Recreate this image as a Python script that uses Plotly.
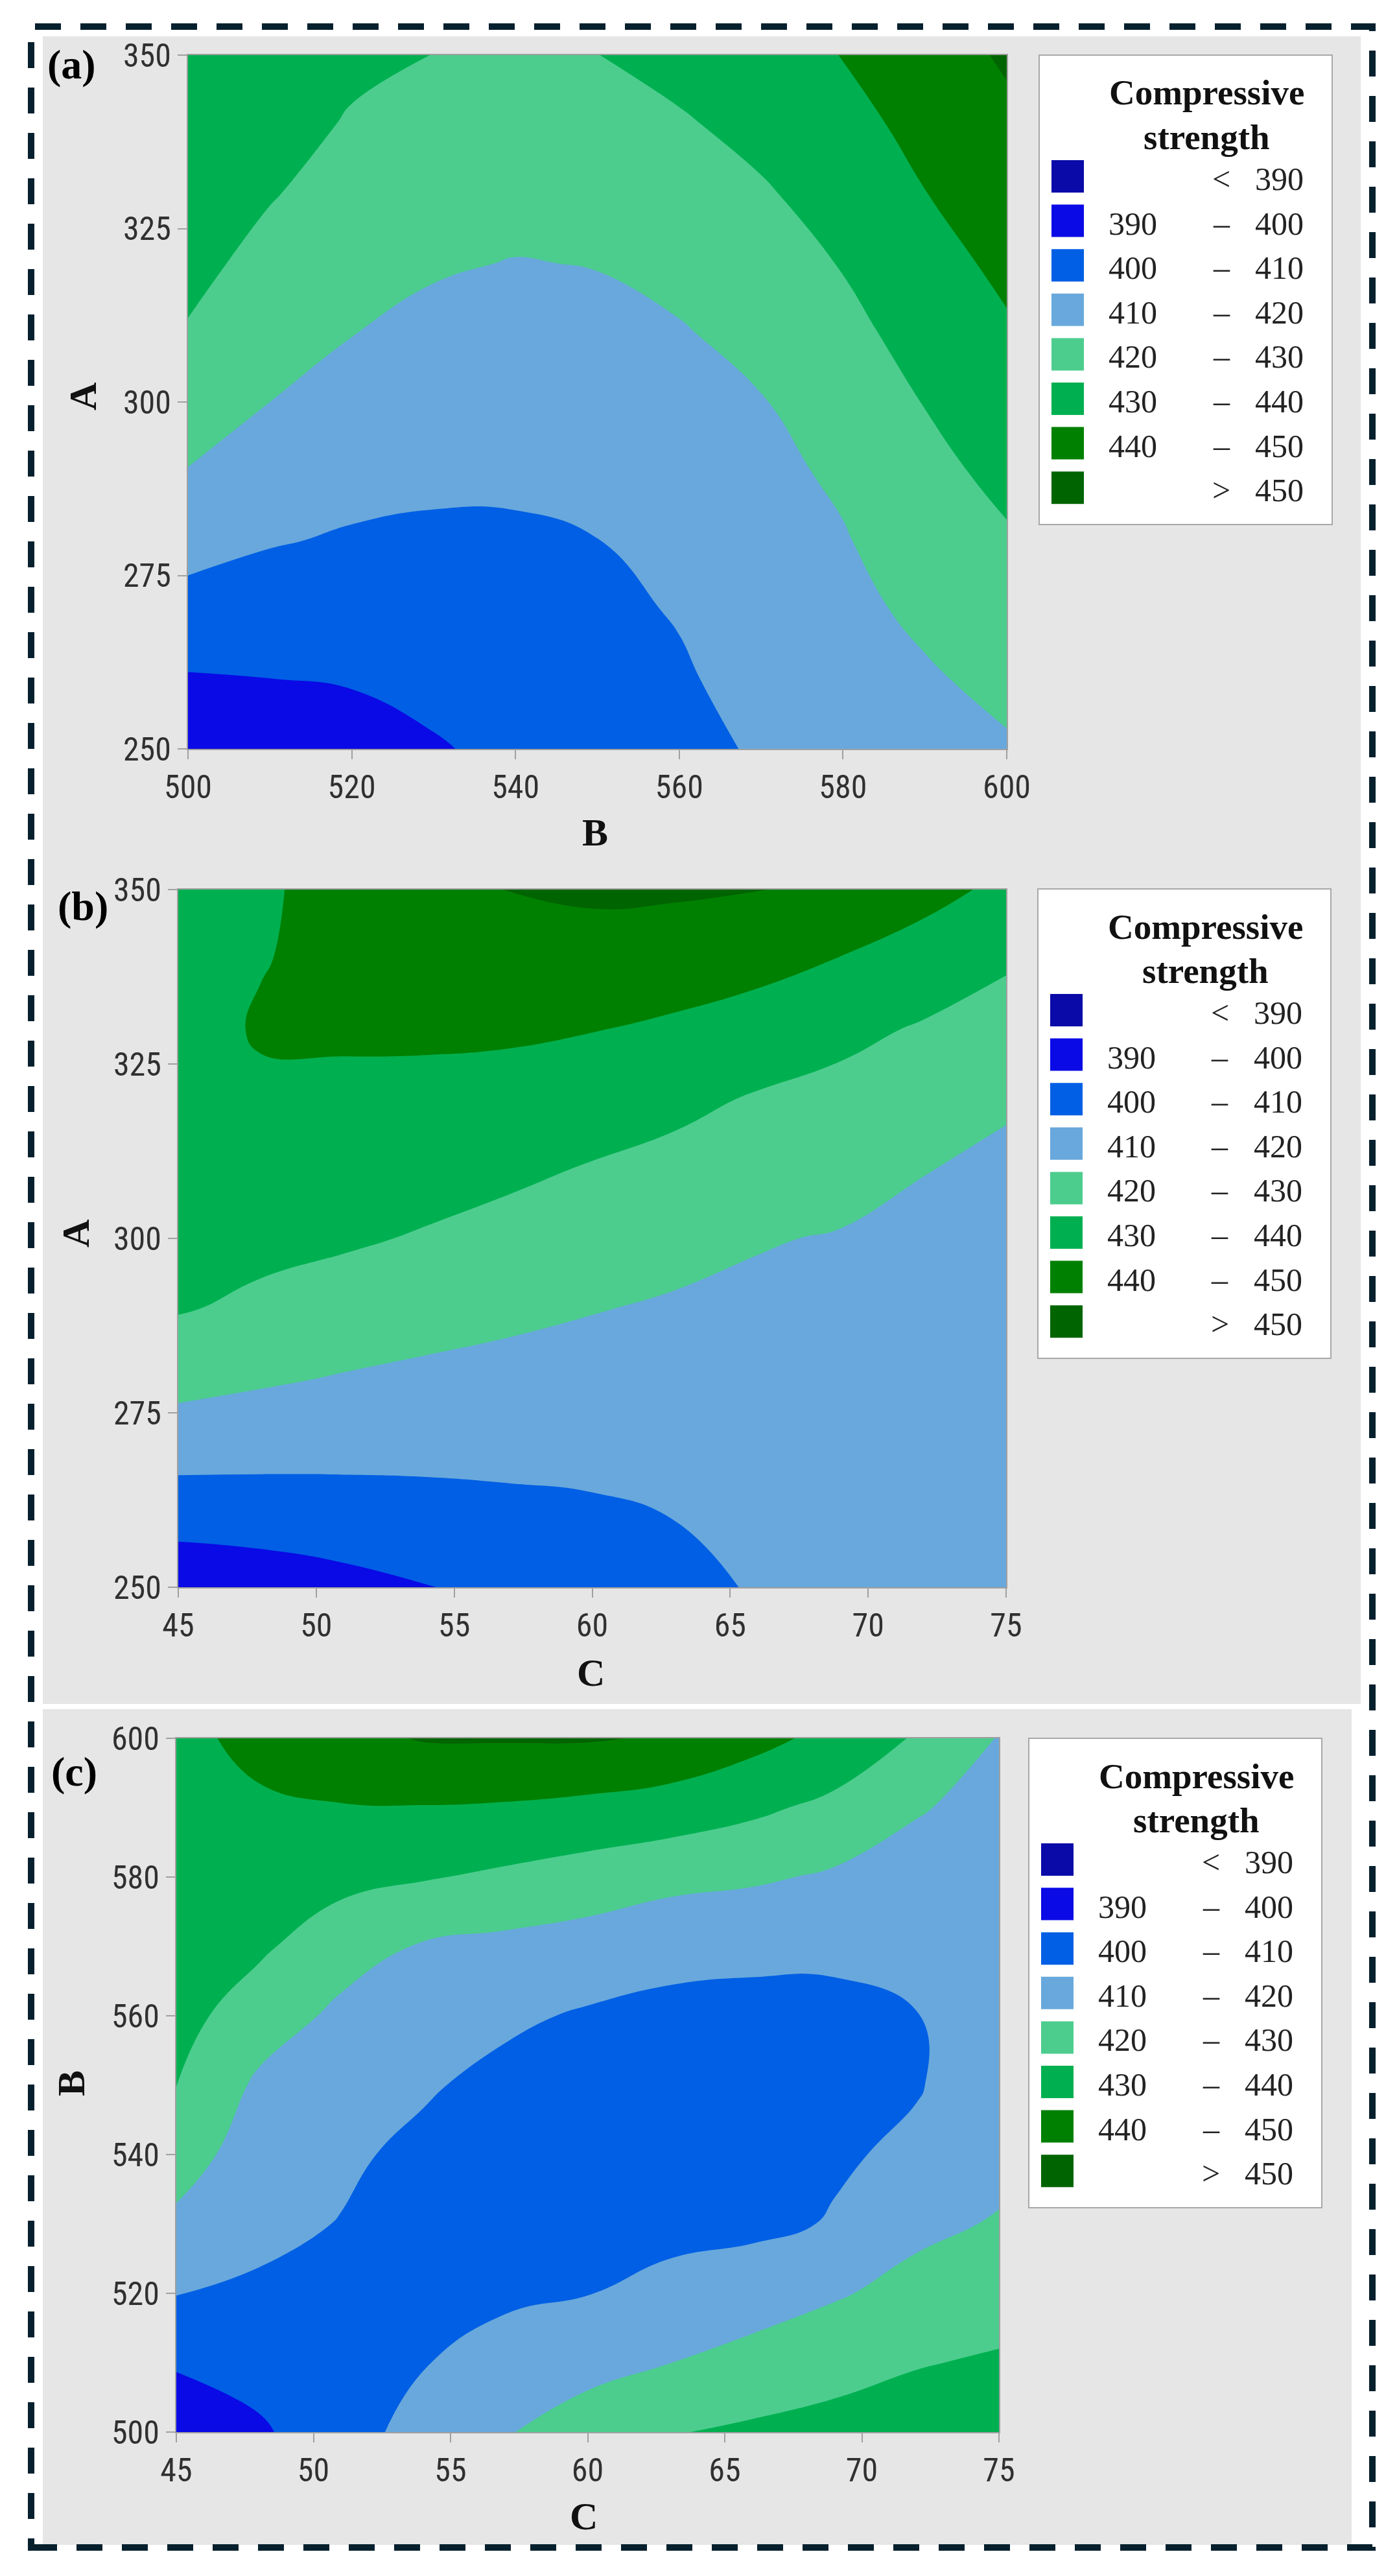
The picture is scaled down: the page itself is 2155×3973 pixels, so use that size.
import plotly.graph_objects as go

W, H = 2155, 3973

# ---------------- data ----------------
A_LEVELS = [250, 260, 270, 280, 290, 300, 310, 320, 330, 340, 350]
B_LEVELS = [500, 510, 520, 530, 540, 550, 560, 570, 580, 590, 600]
C_LEVELS = [45, 48, 51, 54, 57, 60, 63, 66, 69, 72, 75]

# (a) rows = A, columns = B
Z_A_B = [
    [393.5, 394.0, 395.1, 399.2, 402.2, 405.1, 407.9, 410.8, 413.5, 416.2, 419.0],
    [399.2, 399.9, 400.8, 402.5, 404.4, 406.7, 409.1, 412.6, 415.8, 418.9, 422.4],
    [406.6, 405.3, 405.0, 405.6, 406.6, 408.3, 410.5, 414.3, 417.6, 421.8, 425.7],
    [413.4, 410.6, 409.1, 408.6, 408.9, 409.9, 412.7, 416.1, 419.4, 424.6, 429.0],
    [419.7, 415.3, 412.9, 411.7, 411.4, 412.4, 414.9, 417.8, 421.4, 427.5, 432.3],
    [424.5, 420.0, 416.6, 414.8, 414.2, 415.0, 417.2, 419.6, 424.4, 430.3, 435.6],
    [429.3, 423.6, 420.2, 417.8, 417.0, 417.7, 419.4, 422.5, 427.4, 433.5, 438.9],
    [432.6, 427.1, 423.2, 420.9, 419.7, 420.3, 422.4, 425.7, 430.5, 436.6, 442.0],
    [435.0, 430.6, 426.2, 424.0, 423.1, 423.6, 425.7, 429.0, 433.7, 439.8, 445.0],
    [437.2, 433.8, 429.1, 427.1, 426.5, 426.9, 429.0, 432.7, 436.9, 442.8, 448.1],
    [439.0, 437.0, 432.1, 429.9, 429.6, 429.9, 433.0, 436.6, 440.2, 445.8, 451.1],
]

# (b) rows = A, columns = C
Z_A_C = [
    [393.6, 394.8, 397.1, 399.7, 402.4, 405.2, 408.0, 410.6, 411.5, 412.3, 413.0],
    [403.4, 404.3, 405.4, 406.4, 407.6, 408.6, 410.1, 412.6, 413.1, 413.6, 414.0],
    [414.3, 413.5, 412.9, 412.6, 412.5, 412.5, 413.1, 414.5, 414.7, 414.9, 415.0],
    [423.2, 421.2, 419.5, 418.2, 417.2, 416.4, 416.0, 416.5, 416.3, 416.2, 416.1],
    [430.7, 428.2, 425.7, 423.7, 422.0, 420.4, 419.0, 418.4, 417.9, 417.5, 417.1],
    [433.3, 432.4, 431.2, 429.2, 426.9, 424.8, 422.9, 420.5, 419.5, 418.8, 418.2],
    [435.2, 435.6, 434.9, 433.6, 431.8, 429.4, 427.3, 425.2, 423.0, 420.2, 418.5],
    [436.6, 438.9, 438.6, 437.8, 436.6, 434.8, 432.3, 429.2, 427.2, 424.8, 420.9],
    [437.4, 440.6, 440.9, 441.3, 441.3, 440.3, 438.5, 435.9, 432.4, 429.1, 426.0],
    [437.0, 439.7, 441.8, 443.8, 445.8, 446.0, 444.8, 442.9, 439.7, 435.8, 431.2],
    [436.5, 439.0, 442.5, 446.6, 450.3, 451.5, 451.2, 450.4, 447.0, 443.0, 438.0],
]

# (c) rows = B, columns = C
Z_B_C = [
    [393.0, 398.5, 406.4, 413.1, 419.4, 424.2, 429.5, 431.5, 432.8, 434.4, 436.0],
    [401.1, 404.0, 407.5, 409.6, 413.5, 417.2, 419.9, 423.5, 427.0, 429.5, 431.0],
    [410.3, 408.7, 408.6, 407.5, 408.5, 409.8, 412.0, 415.1, 419.0, 423.2, 426.0],
    [418.1, 412.2, 409.7, 407.0, 406.0, 405.5, 408.0, 408.0, 410.6, 417.7, 420.8],
    [424.4, 415.3, 411.5, 408.0, 405.5, 404.0, 405.0, 406.5, 409.0, 411.5, 417.0],
    [430.1, 418.4, 415.2, 411.0, 407.5, 405.5, 405.5, 406.3, 407.5, 409.5, 414.5],
    [433.5, 424.8, 418.1, 415.1, 411.6, 409.0, 408.5, 408.0, 408.5, 409.8, 413.5],
    [435.5, 431.7, 423.9, 419.2, 417.5, 415.8, 411.9, 411.6, 411.2, 413.6, 414.0],
    [436.8, 435.3, 433.0, 430.7, 428.3, 425.6, 423.3, 421.4, 418.7, 416.9, 415.5],
    [437.6, 438.9, 439.5, 439.6, 439.0, 437.5, 435.2, 431.9, 427.6, 420.6, 417.5],
    [438.0, 442.0, 446.9, 450.6, 450.8, 450.8, 449.0, 443.1, 437.1, 429.0, 419.5],
]

BAND_COLORS = ["#0a0aa8", "#0a0ae6", "#005fe4", "#68a8dc",
               "#4ccd8e", "#00b050", "#008000", "#006400"]
BAND_LOW = ["", "390", "400", "410", "420", "430", "440", ""]
BAND_SIGN = ["<", "–", "–", "–", "–", "–", "–", ">"]
BAND_HIGH = ["390", "400", "410", "420", "430", "440", "450", "450"]
LEGEND_TITLE = ["Compressive", "strength"]

A_TICKS = [250, 275, 300, 325, 350]
B_TICKS = [500, 520, 540, 560, 580, 600]
C_TICKS = [45, 50, 55, 60, 65, 70, 75]

LEVEL_START, LEVEL_END, LEVEL_STEP = 390, 450, 10

# ---------------- helpers ----------------
def px(x):
    return x / W


def py(y):
    return 1 - y / H


SERIF = "Liberation Serif, Times New Roman, serif"
TICKFONT = "Liberation Sans Narrow, Arial Narrow, Roboto Condensed, Liberation Sans, sans-serif"

# one colour stop per filled band (plotly samples each band at an evenly spaced point)
nb = len(BAND_COLORS)
cscale = [[i / (nb - 1), c] for i, c in enumerate(BAND_COLORS)]

panels = [
    dict(x=B_LEVELS, y=A_LEVELS, z=Z_A_B, xt=B_TICKS, yt=A_TICKS,
         xr=[500, 600], yr=[250, 350], xtitle="B", ytitle="A", label="(a)",
         box=(290, 85, 1553, 1155), leg=(1603, 85),
         xtpos=(918, 1284), ytpos=(128, 612), lpos=(110, 100)),
    dict(x=C_LEVELS, y=A_LEVELS, z=Z_A_C, xt=C_TICKS, yt=A_TICKS,
         xr=[45, 75], yr=[250, 350], xtitle="C", ytitle="A", label="(b)",
         box=(275, 1372, 1552, 2448), leg=(1601, 1371),
         xtpos=(911, 2580), ytpos=(117, 1903), lpos=(128, 1397)),
    dict(x=C_LEVELS, y=B_LEVELS, z=Z_B_C, xt=C_TICKS, yt=B_TICKS,
         xr=[45, 75], yr=[500, 600], xtitle="C", ytitle="B", label="(c)",
         box=(272, 2681, 1541, 3751), leg=(1587, 2681),
         xtpos=(900, 3881), ytpos=(110, 3213), lpos=(114, 2732)),
]

fig = go.Figure()
shapes = []
annotations = []

# background panels
shapes.append(dict(type="rect", xref="paper", yref="paper", layer="below",
                   x0=px(66), x1=px(2099), y0=py(2628), y1=py(56),
                   fillcolor="#e6e6e6", line=dict(width=0)))
shapes.append(dict(type="rect", xref="paper", yref="paper", layer="below",
                   x0=px(66), x1=px(2085), y0=py(3925), y1=py(2636),
                   fillcolor="#e6e6e6", line=dict(width=0)))

layout_axes = {}
for k, p in enumerate(panels):
    n = "" if k == 0 else str(k + 1)
    fig.add_trace(go.Contour(
        x=p["x"], y=p["y"], z=p["z"],
        xaxis="x" + n, yaxis="y" + n,
        autocontour=False,
        contours=dict(start=LEVEL_START, end=LEVEL_END, size=LEVEL_STEP,
                      coloring="fill", showlines=False),
        line=dict(width=0, smoothing=1.3),
        colorscale=cscale, showscale=False, hoverinfo="skip",
    ))
    x0, y0, x1, y1 = p["box"]
    axcommon = dict(showgrid=False, zeroline=False, showline=True, mirror=True,
                    linecolor="#a0a0a0", linewidth=2, ticks="outside",
                    ticklen=14, tickwidth=2, tickcolor="#a0a0a0", automargin=False,
                    tickfont=dict(family=TICKFONT, size=50, color="#303030"))
    layout_axes["xaxis" + n] = dict(axcommon, domain=[px(x0), px(x1)],
                                    anchor="y" + n, range=p["xr"],
                                    tickvals=p["xt"])
    layout_axes["yaxis" + n] = dict(axcommon, domain=[py(y1), py(y0)],
                                    anchor="x" + n, range=p["yr"],
                                    tickvals=p["yt"])

    # axis titles and panel label
    annotations.append(dict(text="<b>%s</b>" % p["xtitle"], xref="paper", yref="paper",
                            x=px(p["xtpos"][0]), y=py(p["xtpos"][1]),
                            xanchor="center", yanchor="middle", showarrow=False,
                            font=dict(family=SERIF, size=60, color="#111")))
    annotations.append(dict(text="<b>%s</b>" % p["ytitle"], xref="paper", yref="paper",
                            x=px(p["ytpos"][0]), y=py(p["ytpos"][1]), textangle=-90,
                            xanchor="center", yanchor="middle", showarrow=False,
                            font=dict(family=SERIF, size=60, color="#111")))
    annotations.append(dict(text="<b>%s</b>" % p["label"], xref="paper", yref="paper",
                            x=px(p["lpos"][0]), y=py(p["lpos"][1]),
                            xanchor="center", yanchor="middle", showarrow=False,
                            font=dict(family=SERIF, size=64, color="#000")))

    # legend box
    lx, ly = p["leg"]
    shapes.append(dict(type="rect", xref="paper", yref="paper",
                       x0=px(lx), x1=px(lx + 452), y0=py(ly + 724), y1=py(ly),
                       fillcolor="white", line=dict(color="#a8a8a8", width=2)))
    for t, txt in enumerate(LEGEND_TITLE):
        annotations.append(dict(text="<b>%s</b>" % txt, xref="paper", yref="paper",
                                x=px(lx + 258), y=py(ly + 58 + 68 * t),
                                xanchor="center", yanchor="middle", showarrow=False,
                                font=dict(family=SERIF, size=55, color="#111")))
    for i, col in enumerate(BAND_COLORS):
        cy = ly + 187 + 68.6 * i
        shapes.append(dict(type="rect", xref="paper", yref="paper",
                           x0=px(lx + 19), x1=px(lx + 69),
                           y0=py(cy + 25), y1=py(cy - 25),
                           fillcolor=col, line=dict(width=0)))
        ty = cy + 4
        if BAND_LOW[i]:
            annotations.append(dict(text=BAND_LOW[i], xref="paper", yref="paper",
                                    x=px(lx + 105), y=py(ty), xanchor="left",
                                    yanchor="middle", showarrow=False,
                                    font=dict(family=SERIF, size=50, color="#222")))
        annotations.append(dict(text=BAND_SIGN[i], xref="paper", yref="paper",
                                x=px(lx + 281), y=py(ty), xanchor="center",
                                yanchor="middle", showarrow=False,
                                font=dict(family=SERIF, size=50, color="#222")))
        annotations.append(dict(text=BAND_HIGH[i], xref="paper", yref="paper",
                                x=px(lx + 410), y=py(ty), xanchor="right",
                                yanchor="middle", showarrow=False,
                                font=dict(family=SERIF, size=50, color="#222")))

# dashed outer frame
shapes.append(dict(type="rect", xref="paper", yref="paper",
                   x0=px(48), x1=px(2117), y0=py(3929), y1=py(41),
                   fillcolor="rgba(0,0,0,0)",
                   line=dict(color="#06202e", width=10, dash="40px,30px")))

fig.update_layout(
    width=W, height=H, autosize=False,
    margin=dict(l=0, r=0, t=0, b=0, pad=0, autoexpand=False),
    paper_bgcolor="white", plot_bgcolor="rgba(0,0,0,0)",
    showlegend=False,
    shapes=shapes, annotations=annotations,
    **layout_axes,
)

fig.write_html("out.html",
               config={"displayModeBar": False},
               post_script="document.body.style.margin='0';"
                           "document.body.style.overflow='hidden';")
